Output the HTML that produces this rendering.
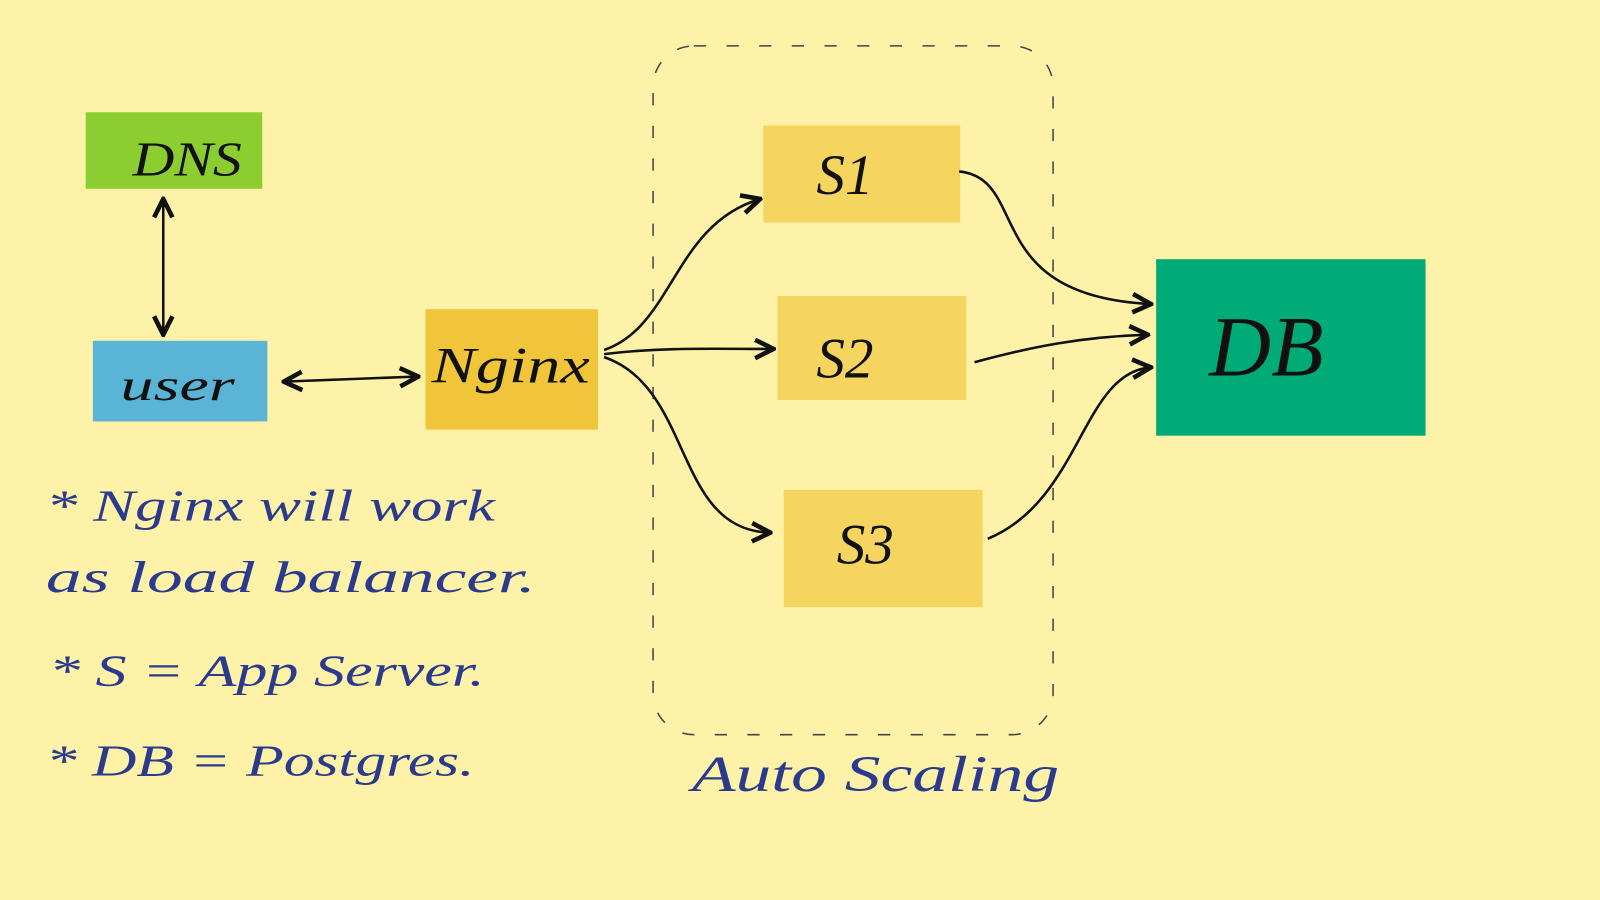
<!DOCTYPE html>
<html><head><meta charset="utf-8">
<style>
html,body{margin:0;padding:0;background:#fef2a9;}
svg{display:block;}
.hw{font-family:"Liberation Serif",serif;font-style:italic;}
</style></head>
<body>
<svg width="1600" height="900" viewBox="0 0 1568 882" preserveAspectRatio="none">
<defs>
<marker id="ah" viewBox="0 0 10 10" refX="9" refY="5" markerWidth="9" markerHeight="9" orient="auto-start-reverse">
<path d="M1,1 L9,5 L1,9" fill="none" stroke="#111" stroke-width="2"/>
</marker>
</defs>
<rect x="0" y="0" width="1568" height="882" fill="#fef2a9"/>

<rect x="640" y="45" width="392" height="675" rx="40" fill="none" stroke="#444" stroke-width="1.5" stroke-dasharray="12,20"/>

<g>
<rect x="84" y="110" width="173" height="75" fill="#8ccd2f"/>
<text x="130" y="172" class="hw" font-size="48" fill="#111" textLength="107" lengthAdjust="spacingAndGlyphs">DNS</text>
</g>
<g>
<rect x="91" y="334" width="171" height="79" fill="#5ab4d6"/>
<text x="118" y="392" class="hw" font-size="44" fill="#111" textLength="112" lengthAdjust="spacingAndGlyphs">user</text>
</g>
<g>
<rect x="417" y="303" width="169" height="118" fill="#f0c53a"/>
<text x="423" y="375" class="hw" font-size="50" fill="#111" textLength="155" lengthAdjust="spacingAndGlyphs">Nginx</text>
</g>
<g>
<rect x="748" y="123" width="193" height="95" fill="#f6d460"/>
<text x="800" y="190" class="hw" font-size="56" fill="#111">S1</text>
</g>
<g>
<rect x="762" y="290" width="185" height="102" fill="#f6d460"/>
<text x="800" y="370" class="hw" font-size="56" fill="#111">S2</text>
</g>
<g>
<rect x="768" y="480" width="195" height="115" fill="#f6d460"/>
<text x="820" y="552" class="hw" font-size="56" fill="#111">S3</text>
</g>
<g>
<rect x="1133" y="254" width="264" height="173" fill="#00ab77"/>
<text x="1185" y="368" class="hw" font-size="84" fill="#111">DB</text>
</g>

<g fill="none" stroke="#111" stroke-width="2.5">
<path d="M160,195 L160,328" marker-start="url(#ah)" marker-end="url(#ah)"/>
<path d="M278,374 L410,369" marker-start="url(#ah)" marker-end="url(#ah)"/>
<path d="M592,343 C660,320 660,220 745,195" marker-end="url(#ah)"/>
<path d="M592,347 C650,340 700,342 758,342" marker-end="url(#ah)"/>
<path d="M592,350 C680,380 660,520 755,522" marker-end="url(#ah)"/>
<path d="M940,168 C1010,175 960,290 1128,298" marker-end="url(#ah)"/>
<path d="M955,355 C1010,340 1060,330 1125,328" marker-end="url(#ah)"/>
<path d="M968,528 C1060,490 1060,365 1128,360" marker-end="url(#ah)"/>
</g>

<g class="hw" fill="#2b3a8c">
<text x="45" y="510" font-size="44" textLength="440" lengthAdjust="spacingAndGlyphs">* Nginx will work</text>
<text x="45" y="580" font-size="44" textLength="480" lengthAdjust="spacingAndGlyphs">as  load  balancer.</text>
<text x="48" y="672" font-size="44" textLength="427" lengthAdjust="spacingAndGlyphs">* S = App Server.</text>
<text x="45" y="760" font-size="44" textLength="420" lengthAdjust="spacingAndGlyphs">* DB = Postgres.</text>
<text x="678" y="775" font-size="50" textLength="360" lengthAdjust="spacingAndGlyphs">Auto Scaling</text>
</g>
</svg>
</body></html>
